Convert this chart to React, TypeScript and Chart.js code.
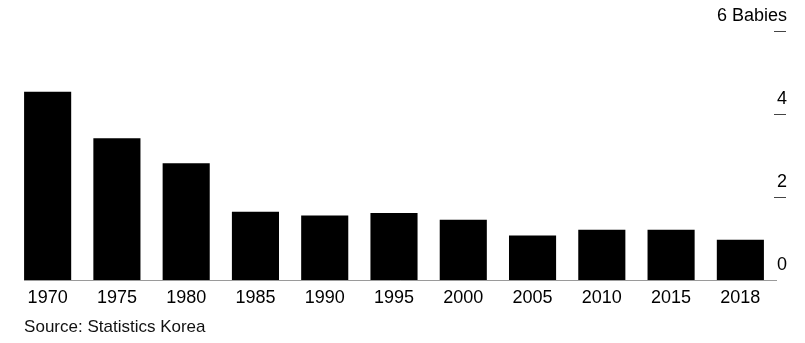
import React, { useEffect, useRef } from "react";
import { Chart, registerables } from "chart.js";

Chart.register(...registerables);

const years = ["1970", "1975", "1980", "1985", "1990", "1995", "2000", "2005", "2010", "2015", "2018"];
const fertility = [4.54, 3.42, 2.82, 1.65, 1.56, 1.62, 1.46, 1.08, 1.22, 1.22, 0.98];
const yTicks = [0, 2, 4, 6];
const yUnit = "Babies";
const sourceText = "Source: Statistics Korea";

const FONT = "'Liberation Sans', Arial, sans-serif";

const overlay = {
  id: "overlay",
  afterDatasetsDraw(chart: any) {
    const { ctx, chartArea, scales } = chart;
    const y = scales.y;
    const meta = chart.getDatasetMeta(0);
    const first = meta.data[0] as any;
    const base = y.getPixelForValue(0);
    ctx.save();
    // baseline
    ctx.strokeStyle = "#9a9a9a";
    ctx.lineWidth = 1;
    ctx.beginPath();
    ctx.moveTo(first.x - first.width / 2, Math.round(base) + 0.5);
    ctx.lineTo(chartArea.right + 2, Math.round(base) + 0.5);
    ctx.stroke();
    // y ticks
    ctx.fillStyle = "#000";
    ctx.font = `18px ${FONT}`;
    ctx.textAlign = "right";
    ctx.textBaseline = "middle";
    const tx = chartArea.right + 11;
    yTicks.forEach((v) => {
      const py = Math.round(y.getPixelForValue(v));
      if (v !== 0) {
        ctx.strokeStyle = "#444";
        ctx.beginPath();
        ctx.moveTo(chartArea.right - 1, py + 0.5);
        ctx.lineTo(tx, py + 0.5);
        ctx.stroke();
      }
      const label = v === yTicks[yTicks.length - 1] ? `${v} ${yUnit}` : String(v);
      ctx.fillText(label, tx + 1, py - 15);
    });
    // source
    ctx.textAlign = "left";
    ctx.font = `17px ${FONT}`;
    ctx.fillStyle = "#111";
    ctx.fillText(sourceText, first.x - first.width / 2, 327);
    ctx.restore();
  },
};

export default function App() {
  const ref = useRef<HTMLCanvasElement>(null);
  useEffect(() => {
    document.body.style.margin = "0";
    const chart = new Chart(ref.current!, {
      type: "bar",
      data: {
        labels: years,
        datasets: [
          {
            data: fertility,
            backgroundColor: "#000",
            barPercentage: 0.68,
            categoryPercentage: 1,
          },
        ],
      },
      options: {
        animation: false,
        responsive: false,
        layout: { padding: { top: 31, bottom: 27, left: 13, right: 30 } },
        plugins: { legend: { display: false }, tooltip: { enabled: false } },
        scales: {
          x: {
            grid: { display: false, drawTicks: false },
            border: { display: false },
            ticks: { color: "#000", font: { family: FONT, size: 18 }, padding: 7, maxRotation: 0 },
          },
          y: { display: false, min: 0, max: 6 },
        },
      },
      plugins: [overlay],
    });
    return () => chart.destroy();
  }, []);
  return (
    <div style={{ position: "absolute", left: 0, top: 0, width: 805, height: 343, background: "#fff" }}>
      <canvas ref={ref} width={805} height={343} />
    </div>
  );
}
